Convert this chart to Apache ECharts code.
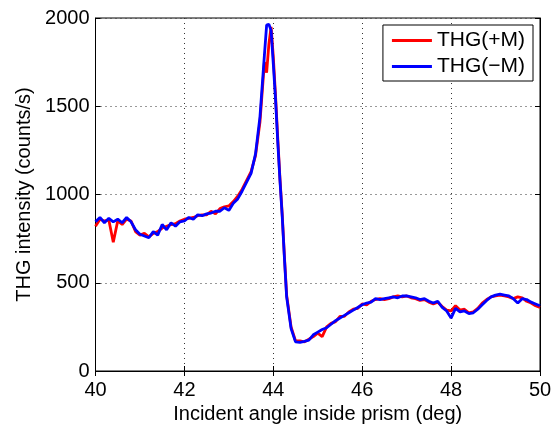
<!DOCTYPE html>
<html>
<head>
<meta charset="utf-8">
<script src="https://cdn.jsdelivr.net/npm/echarts@6/dist/echarts.min.js"></script>
<style>
  html, body { margin: 0; padding: 0; background: #fff; }
  #chart { width: 552px; height: 424px; }
</style>
</head>
<body>
<div id="chart"></div>
<script>
// incident angle (deg)
var angles = [40.0, 40.1, 40.2, 40.3, 40.4, 40.5, 40.6, 40.7, 40.8, 40.9,
  41.0, 41.1, 41.2, 41.3, 41.4, 41.5, 41.6, 41.7, 41.8, 41.9,
  42.0, 42.1, 42.2, 42.3, 42.4, 42.5, 42.6, 42.7, 42.8, 42.9,
  43.0, 43.1, 43.2, 43.3, 43.4, 43.5, 43.6, 43.7, 43.8, 43.85, 43.9, 43.95,
  44.0, 44.05, 44.1, 44.15, 44.2, 44.25, 44.3, 44.4, 44.5, 44.6, 44.7, 44.8, 44.9,
  45.0, 45.1, 45.2, 45.3, 45.4, 45.5, 45.6, 45.7, 45.8, 45.9,
  46.0, 46.1, 46.2, 46.3, 46.4, 46.5, 46.6, 46.7, 46.8, 46.9,
  47.0, 47.1, 47.2, 47.3, 47.4, 47.5, 47.6, 47.7, 47.8, 47.9,
  48.0, 48.1, 48.2, 48.3, 48.4, 48.5, 48.6, 48.7, 48.8, 48.9,
  49.0, 49.1, 49.2, 49.3, 49.4, 49.5, 49.6, 49.7, 49.8, 49.9, 50.0];

// THG(+M), counts/s
var thgPlus = [820, 860, 850, 855, 730, 850, 830, 860, 850, 790,
  770, 780, 760, 780, 790, 810, 820, 830, 835, 850,
  860, 865, 870, 880, 885, 885, 905, 890, 920, 930,
  935, 960, 990, 1030, 1080, 1130, 1220, 1410, 1750, 1690, 1850, 1950,
  1780, 1560, 1320, 1090, 890, 650, 430, 250, 170, 170, 165, 180, 195,
  215, 195, 250, 270, 280, 310, 310, 335, 350, 355,
  380, 375, 395, 405, 410, 405, 410, 420, 425, 420,
  425, 415, 410, 400, 405, 390, 380, 390, 365, 345,
  340, 370, 345, 350, 330, 335, 355, 385, 405, 420,
  425, 430, 425, 420, 410, 420, 415, 395, 385, 370, 360];

// THG(-M), counts/s
var thgMinus = [845, 870, 840, 865, 845, 860, 840, 870, 845, 800,
  775, 765, 755, 790, 770, 830, 800, 840, 820, 845,
  850, 870, 860, 885, 880, 890, 895, 905, 905, 925,
  910, 950, 975, 1020, 1070, 1120, 1230, 1440, 1790, 1960, 1965, 1930,
  1740, 1540, 1300, 1080, 880, 640, 420, 240, 165, 162, 168, 175, 205,
  220, 235, 245, 265, 285, 300, 315, 330, 345, 360,
  375, 385, 390, 410, 405, 410, 415, 420, 415, 425,
  425, 420, 415, 405, 410, 395, 385, 395, 360, 340,
  300, 355, 335, 340, 325, 330, 350, 375, 400, 420,
  430, 435, 430, 425, 410, 385, 410, 405, 390, 380, 370];

function pairs(ys) {
    return angles.map(function (a, i) { return [a, ys[i]]; });
}

var font = 'Liberation Sans, Arial, Helvetica, sans-serif';
var fs = 20;
var dotted = { show: true, lineStyle: { color: '#333', type: [1, 4], width: 1 } };
var tick = { show: true, inside: true, length: 5, lineStyle: { color: '#000' } };
var myChart = echarts.init(document.getElementById('chart'));

var option = {
    animation: false,
    backgroundColor: '#fff',
    textStyle: { fontFamily: font },
    grid: {
        left: 95.5,
        right: 12,
        top: 18,
        bottom: 53,
        outerBoundsMode: 'none',
        containLabel: false,
        show: true,
        borderColor: '#000',
        borderWidth: 1
    },
    legend: {
        right: 19,
        top: 25,
        orient: 'vertical',
        backgroundColor: '#fff',
        borderColor: '#000',
        borderWidth: 1,
        borderRadius: 0,
        padding: [5, 8, 4, 9],
        itemGap: 5,
        itemWidth: 40,
        itemHeight: 3,
        icon: 'rect',
        textStyle: { fontSize: 21, color: '#000', fontFamily: font },
        data: ['THG(+M)', 'THG(\u2212M)']
    },
    xAxis: [{
        type: 'value',
        min: 40,
        max: 50,
        interval: 2,
        name: 'Incident angle inside prism (deg)',
        nameLocation: 'middle',
        nameGap: 33,
        nameTextStyle: { fontSize: fs, color: '#000' },
        axisLine: { lineStyle: { color: '#000' } },
        axisTick: tick,
        axisLabel: { fontSize: fs, color: '#000', margin: 9 },
        splitLine: dotted
    }, {
        type: 'value',
        position: 'top',
        min: 40,
        max: 50,
        interval: 2,
        axisLine: { show: true, lineStyle: { color: '#000' } },
        axisTick: tick,
        axisLabel: { show: false },
        splitLine: { show: false }
    }],
    yAxis: [{
        type: 'value',
        min: 0,
        max: 2000,
        interval: 500,
        name: 'THG intensity (counts/s)',
        nameLocation: 'middle',
        nameGap: 61,
        nameTextStyle: { fontSize: fs, color: '#000' },
        axisLine: { show: true, lineStyle: { color: '#000' } },
        axisTick: tick,
        axisLabel: { fontSize: fs, color: '#000', margin: 6, formatter: function (v) { return String(v); } },
        splitLine: dotted
    }, {
        type: 'value',
        position: 'right',
        min: 0,
        max: 2000,
        interval: 500,
        axisLine: { show: true, lineStyle: { color: '#000' } },
        axisTick: tick,
        axisLabel: { show: false },
        splitLine: { show: false }
    }],
    series: [
        {
            name: 'THG(+M)',
            type: 'line',
            data: pairs(thgPlus),
            showSymbol: false,
            symbol: 'none',
            color: '#ff0000',
            lineStyle: { color: '#ff0000', width: 2.8 }
        },
        {
            name: 'THG(\u2212M)',
            type: 'line',
            data: pairs(thgMinus),
            showSymbol: false,
            symbol: 'none',
            color: '#0000ff',
            lineStyle: { color: '#0000ff', width: 2.8 }
        }
    ]
};

myChart.setOption(option);
</script>
</body>
</html>
